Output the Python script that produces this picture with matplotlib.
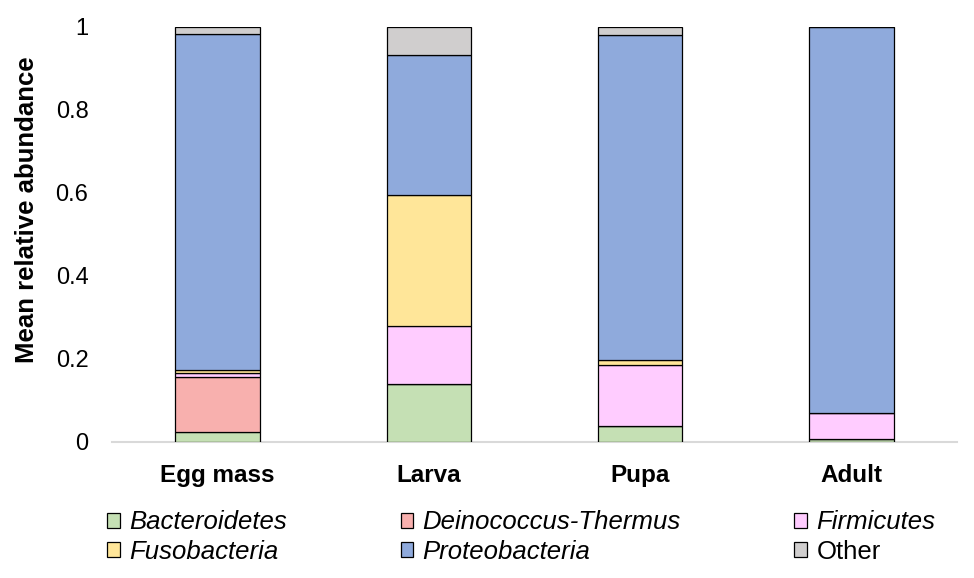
import matplotlib.pyplot as plt
import numpy as np

plt.rcParams['font.family'] = ['Liberation Sans', 'DejaVu Sans']

stages = ['Egg mass', 'Larva', 'Pupa', 'Adult']
phyla = ['Bacteroidetes', 'Deinococcus-Thermus', 'Firmicutes',
         'Fusobacteria', 'Proteobacteria', 'Other']
colors = ['#C5E0B4', '#F8B0AE', '#FFCCFF', '#FFE699', '#8FAADC', '#D0CECE']

# mean relative abundance per stage
bacteroidetes = [0.024, 0.140, 0.039, 0.008]
deinococcus = [0.132, 0.000, 0.000, 0.000]
firmicutes = [0.010, 0.140, 0.147, 0.061]
fusobacteria = [0.007, 0.315, 0.012, 0.001]
proteobacteria = [0.810, 0.337, 0.781, 0.930]
other = [0.017, 0.068, 0.021, 0.000]

values = [bacteroidetes, deinococcus, firmicutes, fusobacteria, proteobacteria, other]

fig = plt.figure(figsize=(9.74, 5.78), dpi=100)
ax = fig.add_axes([0.115, 0.2353, 0.8675, 0.7187])

x = np.arange(len(stages))
bottom = np.zeros(len(stages))
handles = []
for name, vals, c in zip(phyla, values, colors):
    b = ax.bar(x, vals, 0.4, bottom=bottom, color=c, edgecolor='black',
               linewidth=0.9, label=name, zorder=3)
    handles.append(b)
    bottom += np.array(vals)

ax.set_xlim(-0.5, 3.5)
ax.set_ylim(0, 1)
ax.set_yticks([0, 0.2, 0.4, 0.6, 0.8, 1.0])
ax.set_yticklabels(['0', '0.2', '0.4', '0.6', '0.8', '1'])
ax.set_xticks(x)
ax.set_xticklabels(stages, fontweight='bold', fontsize=17.5)
ax.tick_params(axis='both', length=0)
ax.tick_params(axis='y', labelsize=17, pad=17)
ax.tick_params(axis='x', pad=16)
for s in ['top', 'right', 'left']:
    ax.spines[s].set_visible(False)
ax.spines['bottom'].set_color('#D9D9D9')
ax.spines['bottom'].set_linewidth(1.5)
fig.text(27 / 974, 1 - 210 / 578, 'Mean relative abundance', rotation=90,
         ha='center', va='center', fontsize=18.5, fontweight='bold')

# legend is filled column by column, so reorder to read row-wise
order = [0, 3, 1, 4, 2, 5]
leg = fig.legend([handles[i] for i in order], [phyla[i] for i in order],
                 ncol=3, loc='upper left', bbox_to_anchor=(0.110, 0.117),
                 frameon=False, fontsize=18.5, handlelength=0.5, handleheight=0.5,
                 handletextpad=0.35, columnspacing=4.43, labelspacing=0.2,
                 borderpad=0, borderaxespad=0)
for t in leg.get_texts():
    if t.get_text() != 'Other':
        t.set_fontstyle('italic')

fig.savefig('out.png', dpi=100)
